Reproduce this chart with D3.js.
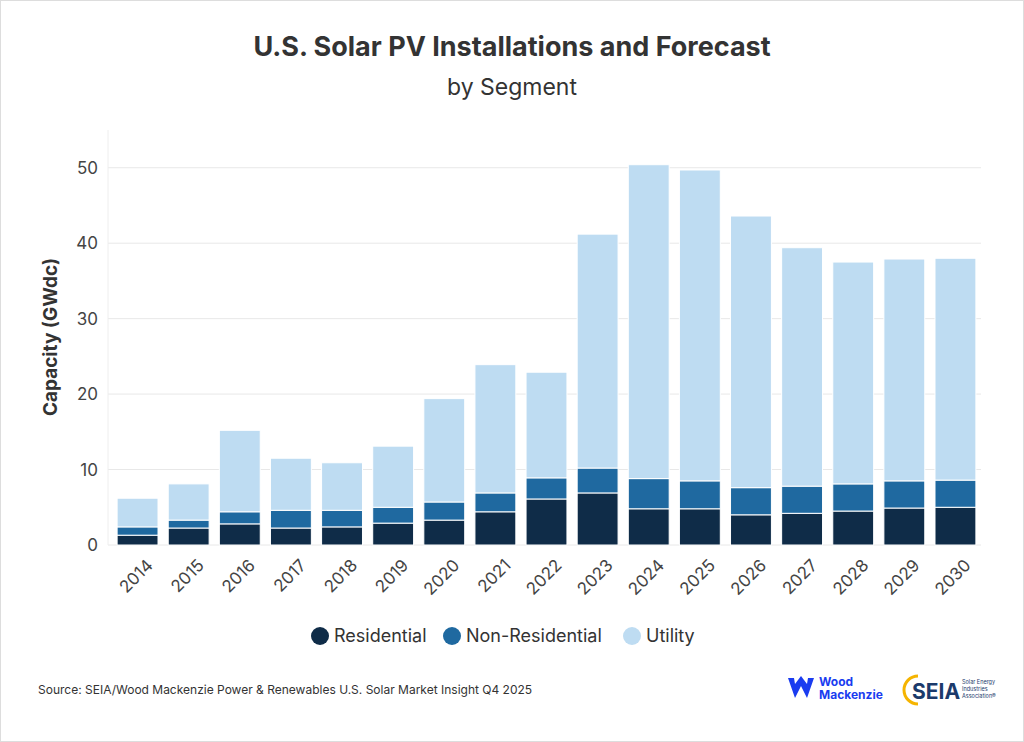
<!DOCTYPE html>
<html><head><meta charset="utf-8">
<script src="https://cdn.jsdelivr.net/npm/d3@7"></script>
<style>body{margin:0;background:#fff}svg{font-family:Inter,"Noto Sans",sans-serif}</style>
</head><body><svg id="c" width="1024" height="742"></svg>
<script>
var years = ['2014','2015','2016','2017','2018','2019','2020','2021','2022','2023','2024','2025','2026','2027','2028','2029','2030']
var residential = [1.3,2.25,2.8,2.25,2.4,2.9,3.3,4.4,6.1,6.9,4.8,4.8,4.0,4.2,4.5,4.9,5.0]
var nonResidential = [1.1,1.05,1.6,2.35,2.2,2.1,2.4,2.5,2.8,3.3,4.0,3.7,3.6,3.6,3.6,3.6,3.6]
var utility = [3.8,4.8,10.8,6.9,6.3,8.1,13.7,17.0,14.0,31.0,41.6,41.2,36.0,31.6,29.4,29.4,29.4]
var seriesNames = ['Residential','Non-Residential','Utility']
var colors = ['#0f2c48','#1f69a0','#bedcf2']
var yTicks = [0,10,20,30,40,50]

var svg = d3.select('#c')
svg.append('rect').attr('x',0.5).attr('y',0.5).attr('width',1023).attr('height',741).attr('fill','#fff').attr('stroke','#ddd')

svg.append('text').attr('x',512).attr('y',56).attr('text-anchor','middle').attr('font-size',27).attr('font-weight',700).attr('fill','#333').text('U.S. Solar PV Installations and Forecast')
svg.append('text').attr('x',512).attr('y',95).attr('text-anchor','middle').attr('font-size',23).attr('fill','#333').text('by Segment')

var x = d3.scaleBand().domain(years).range([112,981]).paddingInner(0.2).paddingOuter(0.1)
var y = d3.scaleLinear().domain([0,55]).range([545,130])

var g = svg.append('g')
g.selectAll('line.grid').data(yTicks).join('line')
  .attr('x1',108).attr('x2',981).attr('y1',d=>y(d)).attr('y2',d=>y(d))
  .attr('stroke','#e8e8e8')
g.append('line').attr('x1',108).attr('x2',108).attr('y1',130).attr('y2',545).attr('stroke','#eee')
g.selectAll('text.yt').data(yTicks).join('text')
  .attr('x',98).attr('y',d=>y(d)+6).attr('text-anchor','end').attr('font-size',17).attr('fill','#444').text(d=>d)

svg.append('text').attr('transform','translate(57,337) rotate(-90)').attr('text-anchor','middle')
  .attr('font-size',19).attr('font-weight',700).attr('fill','#333').text('Capacity (GWdc)')

var rows = years.map((yr,i)=>({year:yr,Residential:residential[i],'Non-Residential':nonResidential[i],Utility:utility[i]}))
var stack = d3.stack().keys(seriesNames)(rows)
g.selectAll('g.s').data(stack).join('g').attr('fill',(d,i)=>colors[i])
  .selectAll('rect').data(d=>d).join('rect')
  .attr('x',d=>x(d.data.year)).attr('width',x.bandwidth())
  .attr('y',d=>y(d[1])).attr('height',d=>y(d[0])-y(d[1]))
  .attr('stroke','#fff').attr('stroke-width',1)

g.selectAll('text.xt').data(years).join('text')
  .attr('transform',d=>'translate('+(x(d)+x.bandwidth()/2+8)+',558) rotate(-45)')
  .attr('text-anchor','end').attr('dy','0.7em').attr('font-size',17).attr('fill','#444').text(d=>d)

var legX = [320,452,632]
seriesNames.forEach(function(n,i){
  svg.append('circle').attr('cx',legX[i]).attr('cy',636).attr('r',9).attr('fill',colors[i])
  svg.append('text').attr('x',legX[i]+14).attr('y',642).attr('font-size',18).attr('fill','#333').text(n)
})

svg.append('text').attr('x',38).attr('y',694).attr('font-size',12).attr('fill','#333')
  .text('Source: SEIA/Wood Mackenzie Power & Renewables U.S. Solar Market Insight Q4 2025')

// logos
svg.append('path').attr('d','M788,678 L795,698 L801,686 L807,698 L814,678 L808,678 L807,684 L801,676 L795,684 L794,678 Z').attr('fill','#1a3cf0')
svg.append('text').attr('x',819).attr('y',686).attr('font-size',12).attr('font-weight',700).attr('fill','#1a3cf0').text('Wood')
svg.append('text').attr('x',819).attr('y',699).attr('font-size',12).attr('font-weight',700).attr('fill','#1a3cf0').text('Mackenzie')
svg.append('path').attr('d','M918,676 A14,14 0 1,0 918,704').attr('fill','none').attr('stroke','#f5b400').attr('stroke-width',3)
svg.append('text').attr('x',912).attr('y',699).attr('font-size',21).attr('font-weight',700).attr('fill','#1b3a6b').text('SEIA')
;['Solar Energy','Industries','Association®'].forEach(function(t,i){
  svg.append('text').attr('x',962).attr('y',684+i*7).attr('font-size',5.5).attr('fill','#1b3a6b').text(t)
})
</script></body></html>
